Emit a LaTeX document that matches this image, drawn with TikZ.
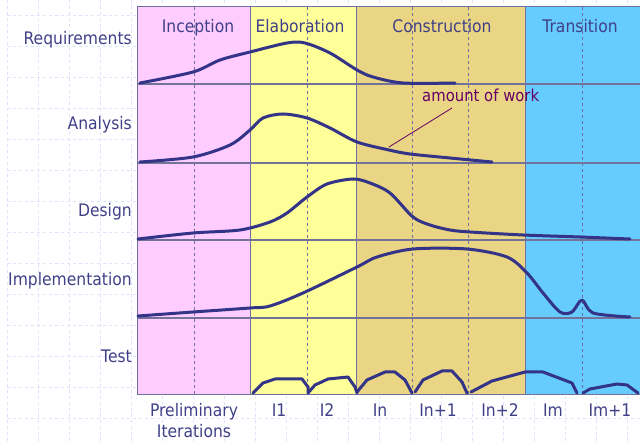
\documentclass[tikz,border=0pt]{standalone}
\usepackage{fontspec}
\setmainfont{DejaVu Sans}[FakeStretch=0.9]
\usepackage{tikz}
\usetikzlibrary{positioning}
\definecolor{inccol}{RGB}{255, 204, 255}
\definecolor{elabcol}{RGB}{255, 255, 153}
\definecolor{conscol}{RGB}{233, 213, 131}
\definecolor{trancol}{RGB}{102, 204, 255}
\definecolor{txtcol}{RGB}{64, 64, 136}
\definecolor{workcol}{RGB}{51, 51, 136}
\definecolor{notecol}{RGB}{102, 0, 102}
\definecolor{gridcol}{RGB}{222, 226, 250}
\definecolor{rulecol}{RGB}{112, 112, 160}
\tikzset{
    lbl/.style={font=\fontsize{17.3}{21}\selectfont, text=txtcol, inner sep=0pt},
    phaselbl/.style={lbl, anchor=base},
    rowlbl/.style={lbl, anchor=base east},
    iterlbl/.style={lbl, anchor=base, align=center},
    notelbl/.style={lbl, font=\fontsize{16.5}{20}\selectfont, text=notecol, anchor=base west},
    gridline/.style={draw=gridcol, dashed, line width=0.8pt},
    phaseline/.style={draw=rulecol, line width=1pt},
    rowline/.style={draw=rulecol!80!gray, line width=1.3pt},
    iterline/.style={draw=rulecol, dashed, line width=0.8pt},
    workcurve/.style={draw=workcol, line width=3pt, line cap=round, line join=round},
    leader/.style={draw=notecol, line width=0.8pt}
}

\begin{document}
\begin{tikzpicture}[x=1pt, y=-1pt]
    \useasboundingbox (0,0) rectangle (640,443);
    \foreach \gx in {7,38,...,627} \draw[gridline] (\gx,0) -- (\gx,443);
    \foreach \gy in {15,46,...,418} \draw[gridline] (7,\gy) -- (640,\gy);

    \fill[inccol] (137,7) rectangle (250,395);
    \fill[elabcol] (250,7) rectangle (356,395);
    \fill[conscol] (356,7) rectangle (525,395);
    \fill[trancol] (525,7) rectangle (640,395);

    \foreach \ix in {194,307,412,468,582} \draw[iterline] (\ix,7) -- (\ix,395);
    \foreach \ry in {84,163,240,318} \draw[rowline] (137,\ry) -- (640,\ry);
    \foreach \px in {137,250,356,525} \draw[phaseline] (\px,7) -- (\px,395);
    \draw[phaseline] (137,7) -- (640,7);
    \draw[phaseline] (137,395) -- (640,395);

    \node[phaselbl] (inception) at (198,33) {Inception};
    \node[phaselbl] (elaboration) at (300,33) {Elaboration};
    \node[phaselbl] (construction) at (442,33) {Construction};
    \node[phaselbl] (transition) at (580,33) {Transition};

    \node[rowlbl] (requirements) at (132,45) {Requirements};
    \node[rowlbl] (analysis) at (132,130) {Analysis};
    \node[rowlbl] (design) at (132,217) {Design};
    \node[rowlbl] (implementation) at (132,286) {Implementation};
    \node[rowlbl] (test) at (132,363) {Test};

    \node[iterlbl] (prelim) at (194,438) {Preliminary\\Iterations};
    \node[iterlbl] (iter1) at (279,417) {I1};
    \node[iterlbl] (iter2) at (327,417) {I2};
    \node[iterlbl] (itern) at (380,417) {In};
    \node[iterlbl] (iternone) at (438,417) {In+1};
    \node[iterlbl] (iterntwo) at (500,417) {In+2};
    \node[iterlbl] (iterm) at (553,417) {Im};
    \node[iterlbl] (itermone) at (610,417) {Im+1};

    \draw[workcurve] plot[smooth, tension=0.5] coordinates {(140,83) (193,72) (220,60) (250,52) (287,43) (305,43) (330,53) (357,70) (373,77) (403,83) (455,83)};
    \draw[workcurve] plot[smooth, tension=0.5] coordinates {(140,162) (193,157) (230,145) (250,130) (263,118) (283,114) (307,118) (330,128) (357,142) (389,150) (410,154) (450,158) (492,162)};
    \draw[workcurve] plot[smooth, tension=0.5] coordinates {(138,239) (193,233) (240,230) (270,222) (287,213) (307,197) (327,184) (353,179) (370,183) (390,193) (413,217) (430,225) (450,230) (470,232) (523,235) (580,237) (630,239)};
    \draw[workcurve] plot[smooth, tension=0.5] coordinates {(138,316) (193,312) (250,308) (270,306) (303,293) (357,267) (377,257) (413,249) (467,249) (507,257) (527,273) (543,293) (560,312) (572,312) (582,300) (593,313) (630,317)};

    \draw[workcurve] (253,393) -- (263,383) -- (275,379) -- (302,379) -- (308,387) -- (308,393);
    \draw[workcurve] (308,393) -- (315,385) -- (328,379) -- (348,377) -- (355,387) -- (357,393);
    \draw[workcurve] (357,392) -- (367,380) -- (385,372) -- (395,372) -- (405,380) -- (412,393);
    \draw[workcurve] (415,392) -- (423,380) -- (442,371) -- (452,371) -- (462,382) -- (467,393);
    \draw[workcurve] (471,392) -- (492,381) -- (525,372) -- (543,372) -- (572,383) -- (577,393);
    \draw[workcurve] (583,393) -- (590,389) -- (617,384) -- (627,385) -- (638,393);

    \node[notelbl] (work) at (422,102) {amount of work};
    \coordinate (workpt) at (389,147);
    \draw[leader] (452,108) -- (workpt);
\end{tikzpicture}
\end{document}
